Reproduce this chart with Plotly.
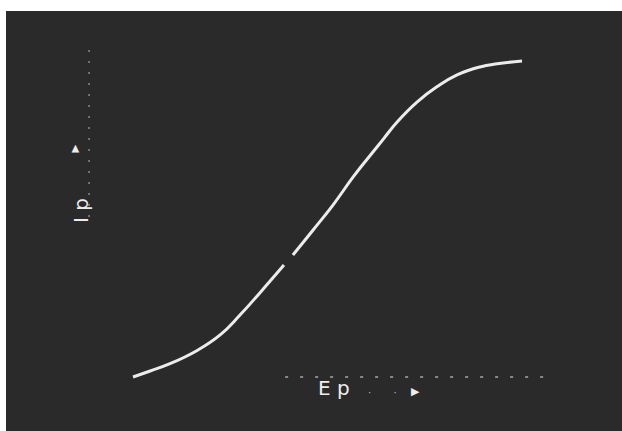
import plotly.graph_objects as go

# Plate voltage (Ep) and plate current (Ip), arbitrary units
ep = [0.0, 0.44, 0.95, 1.65, 2.24, 2.75, 3.26, 3.88, None, 4.11, 4.63, 5.14, 5.66,
      6.09, 6.43, 6.79, 7.30, 7.81, 8.33, 8.92, 9.36, 10.0]
ip = [0.0, 0.19, 0.42, 0.84, 1.33, 1.96, 2.66, 3.54, None, 3.86, 4.65, 5.44, 6.33,
      7.00, 7.52, 8.07, 8.70, 9.18, 9.56, 9.81, 9.91, 10.0]

x_label = "E p"
y_label = "I p"

W, H = 622, 431
L, T = 6, 11
BG = "#2a2a2a"
FG = "#ececec"

def px(x):
    return (x - L) / (W - L)

def py(y):
    return (H - y) / (H - T)

fig = go.Figure()
fig.add_trace(go.Scatter(
    x=ep, y=ip, mode="lines",
    line=dict(color=FG, width=3, shape="spline", smoothing=1.3),
    connectgaps=False, hoverinfo="skip", showlegend=False,
))

fig.update_layout(
    width=W, height=H,
    margin=dict(l=L, r=0, t=T, b=0),
    paper_bgcolor="white",
    plot_bgcolor=BG,
    xaxis=dict(range=[-3.265, 12.57], visible=False, fixedrange=True),
    yaxis=dict(range=[-1.709, 11.58], visible=False, fixedrange=True),
)

# faint dotted axes
fig.add_shape(type="line", xref="x", yref="y", x0=-1.13, x1=-1.13, y0=5.06, y1=10.38,
              line=dict(color="#8a8a8a", width=1.5, dash="2px,9px"))
fig.add_shape(type="line", xref="x", yref="y", x0=3.91, x1=10.59, y0=0, y1=0,
              line=dict(color="#a8a8a8", width=1.5, dash="3px,12px"))

# axis labels
fig.add_annotation(x=px(67), y=py(211), xref="paper", yref="paper", text=y_label,
                   textangle=-90, showarrow=False,
                   font=dict(family="DejaVu Sans", size=20, color=FG))
fig.add_annotation(x=px(66), y=py(143), xref="paper", yref="paper", text="▶",
                   textangle=-90, showarrow=False,
                   font=dict(family="DejaVu Sans", size=10, color=FG))
fig.add_annotation(x=px(334), y=py(402), xref="paper", yref="paper", text=x_label,
                   showarrow=False,
                   font=dict(family="DejaVu Sans", size=20, color=FG))
fig.add_annotation(x=px(382), y=py(400), xref="paper", yref="paper", text="·       ·",
                   showarrow=False,
                   font=dict(family="DejaVu Sans", size=10, color="#bdbdbd"))
fig.add_annotation(x=px(415), y=py(400), xref="paper", yref="paper", text="▶",
                   showarrow=False,
                   font=dict(family="DejaVu Sans", size=11, color=FG))

fig.write_html("out.html", config={"displayModeBar": False},
               post_script="document.body.style.margin='0';")
